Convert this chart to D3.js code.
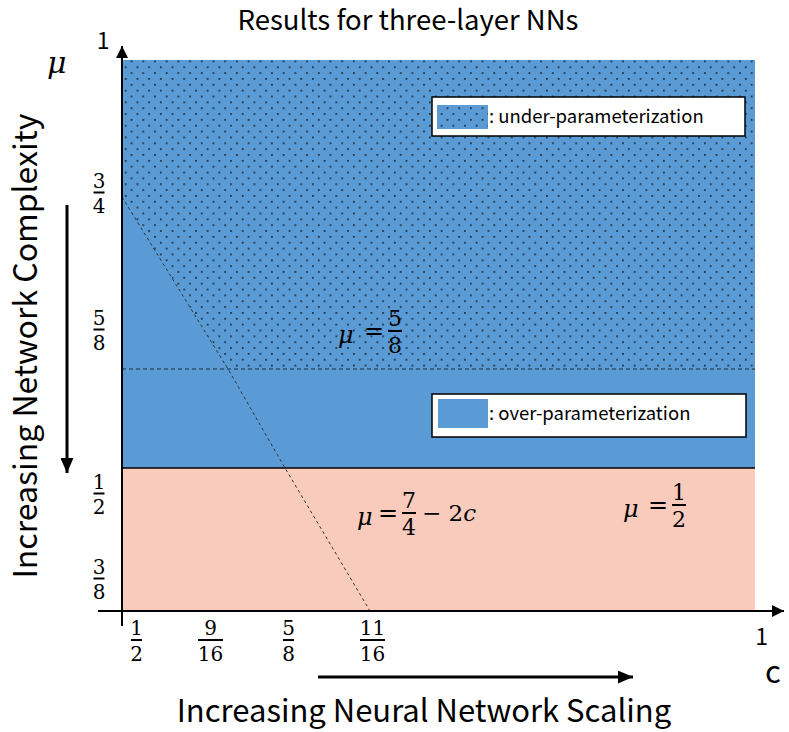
<!DOCTYPE html>
<html>
<head>
<meta charset="utf-8">
<script src="https://cdn.jsdelivr.net/npm/d3@7"></script>
<style>
body { margin: 0; background: #fff; }
text { font-family: "Noto Sans CJK SC", "Noto Sans", sans-serif; fill: #000; }
.math { font-family: "DejaVu Serif", serif; }
</style>
</head>
<body>
<script>
// ---- data ----
const muTicks = [1, 3/4, 5/8, 1/2, 3/8];
const muTickLabels = [["1"], ["3", "4"], ["5", "8"], ["1", "2"], ["3", "8"]];
const cTicks = [1/2, 9/16, 5/8, 11/16, 1];
const cTickLabels = [["1", "2"], ["9", "16"], ["5", "8"], ["11", "16"], ["1"]];
const cLine = [1/2, 9/16, 5/8, 11/16];   // c values on  mu = 7/4 - 2c
const muOver = 5/8;                       // dashed line
const muSplit = 1/2;                      // solid line between regions
const legendLabels = [": under-parameterization", ": over-parameterization"];
const title = "Results for three-layer NNs";
const yTitle = "Increasing Network Complexity";
const xTitle = "Increasing Neural Network Scaling";

const W = 789, H = 732;
const blue = "#5b9bd5", pink = "#f8cbbd";

const svg = d3.select("body").append("svg")
  .attr("width", W).attr("height", H);

// schematic (non uniform) scales, as in the drawing
const y = d3.scaleLinear().domain([3/8, 1/2, 5/8, 3/4, 1]).range([611, 468, 369, 197, 60]);
const x = d3.scaleLinear().domain([1/2, 9/16, 5/8, 11/16, 1]).range([122, 228, 285, 370, 755]);

const defs = svg.append("defs");
const pat = defs.append("pattern")
  .attr("id", "dots").attr("patternUnits", "userSpaceOnUse")
  .attr("width", 11.7).attr("height", 11.7);
pat.append("rect").attr("x", 2).attr("y", 2).attr("width", 1.7).attr("height", 1.7).attr("fill", "#1b2736");
pat.append("rect").attr("x", 7.85).attr("y", 7.85).attr("width", 1.7).attr("height", 1.7).attr("fill", "#1b2736");

const arrow = (id, w, l) => {
  defs.append("marker").attr("id", id)
    .attr("viewBox", `0 ${-w/2} ${l} ${w}`).attr("refX", l).attr("refY", 0)
    .attr("markerUnits", "userSpaceOnUse")
    .attr("markerWidth", l).attr("markerHeight", w).attr("orient", "auto")
    .append("path").attr("d", `M0,${-w/2}L${l},0L0,${w/2}Z`).attr("fill", "#000");
};
arrow("ahead", 12, 12);
arrow("bighead", 13, 15);

// regions
const c0 = cTicks[0], c1 = cTicks[cTicks.length - 1];
svg.append("rect")
  .attr("x", x(c0)).attr("y", y(1))
  .attr("width", x(c1) - x(c0)).attr("height", y(muSplit) - y(1))
  .attr("fill", blue);
svg.append("rect")
  .attr("x", x(c0)).attr("y", y(muSplit))
  .attr("width", x(c1) - x(c0)).attr("height", y(3/8) - y(muSplit))
  .attr("fill", pink);

// under-parameterization: mu above max(5/8, 7/4 - 2c)
const cross = (7/4 - muOver) / 2;
const under = [[c0, 1], [c1, 1], [c1, muOver], [cross, muOver], [c0, 7/4 - 2 * c0]];
svg.append("path")
  .attr("d", d3.line().x(d => x(d[0])).y(d => y(d[1]))(under) + "Z")
  .attr("fill", "url(#dots)");

// lines
svg.append("line")
  .attr("x1", x(c0)).attr("x2", x(c1)).attr("y1", y(muOver)).attr("y2", y(muOver))
  .attr("stroke", "#1d2a3a").attr("stroke-width", 1).attr("stroke-dasharray", "4,3");
svg.append("path")
  .attr("d", d3.line().x(d => x(d)).y(d => y(7/4 - 2 * d))(cLine))
  .attr("fill", "none").attr("stroke", "#333").attr("stroke-width", 1).attr("stroke-dasharray", "3,3");
svg.append("line")
  .attr("x1", x(c0)).attr("x2", x(c1)).attr("y1", y(muSplit)).attr("y2", y(muSplit))
  .attr("stroke", "#000").attr("stroke-width", 1.5);

// axes lines with arrows
svg.append("line")
  .attr("x1", x(c0)).attr("x2", x(c0)).attr("y1", 626).attr("y2", 46)
  .attr("stroke", "#000").attr("stroke-width", 2).attr("marker-end", "url(#ahead)");
svg.append("line")
  .attr("x1", 98).attr("x2", 784).attr("y1", y(3/8)).attr("y2", y(3/8))
  .attr("stroke", "#000").attr("stroke-width", 2).attr("marker-end", "url(#ahead)");

// fraction helper (bar centred on 0)
function frac(g, parts, size, barW) {
  g.append("text").attr("class", "math").text(parts[0]).attr("text-anchor", "middle")
    .attr("y", -5).attr("font-size", size).attr("fill", "#000");
  g.append("rect").attr("x", -barW / 2).attr("y", -1).attr("width", barW).attr("height", 2).attr("fill", "#000");
  g.append("text").attr("class", "math").text(parts[1]).attr("text-anchor", "middle")
    .attr("y", size * 0.73 + 6).attr("font-size", size).attr("fill", "#000");
}

// y ticks through d3 axis, labels drawn as fractions
const yNudge = [-12, -5, -40, 25, -33];
const yAxisG = svg.append("g").attr("transform", `translate(${x(c0)},0)`)
  .call(d3.axisLeft(y).tickValues(muTicks).tickSize(0).tickFormat(""));
yAxisG.select(".domain").remove();
yAxisG.selectAll(".tick").each(function (d, i) {
  const g = d3.select(this).append("g").attr("transform", `translate(-23,${yNudge[i]})`);
  if (i === 0) {
    g.append("text").text(muTickLabels[i][0]).attr("text-anchor", "middle").attr("x", 4)
      .attr("font-size", 23).attr("fill", "#000");
  } else {
    frac(g, muTickLabels[i], 20, 11);
  }
});

const xNudge = [14, -18, 3, 2, 6];
const xAxisG = svg.append("g").attr("transform", `translate(0,${y(3/8)})`)
  .call(d3.axisBottom(x).tickValues(cTicks).tickSize(0).tickFormat(""));
xAxisG.select(".domain").remove();
xAxisG.selectAll(".tick").each(function (d, i) {
  const g = d3.select(this).append("g").attr("transform", `translate(${xNudge[i]},29)`);
  if (i === cTicks.length - 1) {
    g.append("text").text(cTickLabels[i][0]).attr("text-anchor", "middle").attr("y", 5)
      .attr("font-size", 23).attr("fill", "#000");
  } else {
    const bw = cTickLabels[i][1].length > 1 ? 25 : 11;
    frac(g, cTickLabels[i], 20, bw);
  }
});

// axis symbols
svg.append("text").attr("class", "math").text("μ").attr("x", 47).attr("y", 73)
  .attr("font-size", 30).attr("font-style", "italic");
svg.append("text").text("c").attr("x", 765).attr("y", 683).attr("font-size", 31);

// equations: mu = frac [tail]
function eq(xp, yp, parts, tail, fx) {
  const g = svg.append("g").attr("transform", `translate(${xp},${yp})`);
  g.append("text").attr("class", "math").text("μ").attr("font-style", "italic")
    .attr("font-size", 24).attr("y", 12);
  g.append("text").attr("class", "math").text("=").attr("font-size", 24).attr("x", fx - 31).attr("y", 8);
  const f = g.append("g").attr("transform", `translate(${fx},0)`);
  frac(f, parts, 22, 14);
  if (tail) {
    const t = g.append("text").attr("class", "math").attr("font-size", 23).attr("x", fx + 13).attr("y", 8);
    t.append("tspan").text("− 2");
    t.append("tspan").text(tail).attr("font-style", "italic");
  }
}
eq(357, 513, ["7", "4"], "c", 52);
eq(338, 331, ["5", "8"], null, 57);
eq(623, 505, ["1", "2"], null, 56);

// legends
function legend(bx, by, bw, bh, sx, sy, sw, sh, label, dotted) {
  svg.append("rect").attr("x", bx).attr("y", by).attr("width", bw).attr("height", bh)
    .attr("fill", "#fff").attr("stroke", "#000").attr("stroke-width", 1.5);
  svg.append("rect").attr("x", sx).attr("y", sy).attr("width", sw).attr("height", sh).attr("fill", blue);
  if (dotted) svg.append("rect").attr("x", sx).attr("y", sy).attr("width", sw).attr("height", sh).attr("fill", "url(#dots)");
  svg.append("text").text(label).attr("x", sx + sw + 1).attr("y", sy + sh / 2 + 6)
    .attr("font-size", 18.5).attr("fill", "#111");
}
legend(432, 97, 313, 39, 437, 105, 51, 24, legendLabels[0], true);
legend(432, 394, 314, 43, 438, 399, 50, 29, legendLabels[1], false);

// titles
svg.append("text").text(title).attr("x", 408).attr("y", 30)
  .attr("text-anchor", "middle").attr("font-size", 27.5);
svg.append("text").text(yTitle)
  .attr("transform", "translate(37,346) rotate(-90)")
  .attr("text-anchor", "middle").attr("font-size", 32);
svg.append("text").text(xTitle).attr("x", 424).attr("y", 722)
  .attr("text-anchor", "middle").attr("font-size", 31);

// direction arrows
svg.append("line").attr("x1", 67).attr("x2", 67).attr("y1", 205).attr("y2", 473)
  .attr("stroke", "#000").attr("stroke-width", 3).attr("marker-end", "url(#bighead)");
svg.append("line").attr("x1", 318).attr("x2", 633).attr("y1", 677).attr("y2", 677)
  .attr("stroke", "#000").attr("stroke-width", 3).attr("marker-end", "url(#bighead)");
</script>
</body>
</html>
